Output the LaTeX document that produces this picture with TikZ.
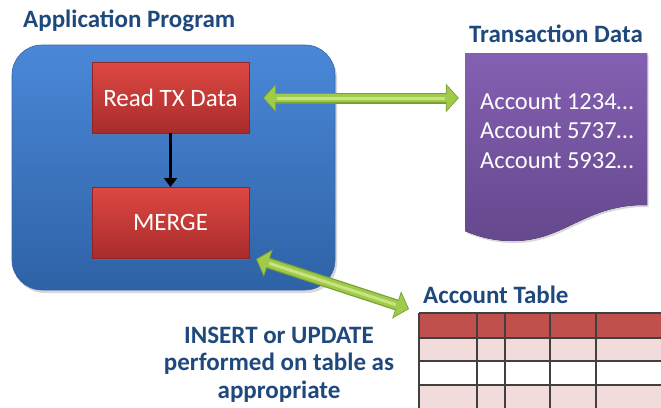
\documentclass[tikz,border=0pt]{standalone}
\usepackage{fontspec}
\setmainfont{Carlito}
\usetikzlibrary{arrows.meta,shadows,calc}

\definecolor{titleblue}{RGB}{31,73,125}
\definecolor{apptop}{RGB}{74,136,216}
\definecolor{appbot}{RGB}{46,98,166}
\definecolor{appedge}{RGB}{52,100,165}
\definecolor{redtop}{RGB}{222,72,66}
\definecolor{redbot}{RGB}{168,44,44}
\definecolor{rededge}{RGB}{140,38,38}
\definecolor{doctop}{RGB}{132,96,178}
\definecolor{docbot}{RGB}{102,72,142}
\definecolor{arrdark}{RGB}{120,160,50}
\definecolor{arrgreen}{RGB}{160,202,74}
\definecolor{arrlight}{RGB}{200,228,130}
\definecolor{hdrred}{RGB}{192,80,77}
\definecolor{rowpink}{RGB}{242,220,219}
\definecolor{gridgray}{RGB}{64,64,64}

\tikzset{
  heading/.style={text=titleblue, font=\fontsize{25}{28}\selectfont\bfseries, inner sep=0pt},
  appbox/.style={rounded corners=30pt, top color=apptop, bottom color=appbot,
    draw=appedge, line width=0.6pt, inner sep=0pt, outer sep=0pt,
    drop shadow={shadow xshift=2pt, shadow yshift=-3pt, opacity=0.3}},
  stepbox/.style={top color=redtop, bottom color=redbot, draw=rededge, line width=0.6pt,
    minimum width=157pt, minimum height=71pt, inner sep=0pt, outer sep=0pt,
    text=white, font=\fontsize{25}{28}\selectfont,
    drop shadow={shadow xshift=1pt, shadow yshift=-2pt, opacity=0.3}},
  acctline/.style={text=white, font=\fontsize{24.5}{28}\selectfont, inner sep=0pt, anchor=base west},
  fatrim/.style={line width=11pt, draw=arrdark,
    {Triangle[length=13pt,width=28pt]}-{Triangle[length=13pt,width=28pt]}},
  fatarrow/.style={line width=8.5pt, draw=arrgreen, shorten <=1.2pt, shorten >=1.2pt,
    {Triangle[length=11pt,width=24pt]}-{Triangle[length=11pt,width=24pt]}},
  glint/.style={line width=3pt, draw=arrlight, shorten <=14pt, shorten >=14pt},
  flow/.style={line width=2.5pt, draw=black, -{Triangle[length=9pt,width=13pt]}},
  gridline/.style={draw=gridgray, line width=1.2pt},
}

\begin{document}
\begin{tikzpicture}[x=1pt,y=-1pt]
\clip (0,0) rectangle (661,407);
\fill[white] (0,0) rectangle (661,407);

% application program container
\node[heading, anchor=base west] (apptitle) at (23,27) {Application Program};
\node[appbox, minimum width=323pt, minimum height=245pt] (app) at (173.5,167.5) {};

\node[stepbox] (readtx) at (170.5,97.5) {Read TX Data};
\node[stepbox] (merge) at (170.5,222.5) {MERGE};
\draw[flow] (readtx.south) -- (merge.north);

% transaction data document
\node[heading, anchor=base] (doctitle) at (556,42) {Transaction Data};
\fill[top color=doctop, bottom color=docbot, drop shadow={shadow xshift=1.5pt, shadow yshift=-2pt, opacity=0.3}]
  (465,53) -- (647,53) -- (647,205)
  .. controls (585,204) and (565,241) .. (513,241)
  .. controls (492,241) and (477,236) .. (465,231) -- cycle;
\node[minimum width=182pt, minimum height=188pt, inner sep=0pt] (doc) at (556,147) {};
\node[acctline] (acc1) at (480,109) {Account 1234…};
\node[acctline] (acc2) at (480,138.5) {Account 5737…};
\node[acctline] (acc3) at (480,168) {Account 5932…};

% account table
\node[heading, anchor=base west] (tabtitle) at (423,303) {Account Table};
\node[anchor=north west, minimum width=260pt, minimum height=100pt, inner sep=0pt, outer sep=0pt] (acct) at (419,313) {};
\fill[hdrred] (419,313) rectangle (670,338);
\fill[rowpink] (419,338) rectangle (670,361);
\fill[white] (419,361) rectangle (670,385);
\fill[rowpink] (419,385) rectangle (670,410);
\foreach \yy in {313,338,361,385}
  \draw[gridline] (419,\yy) -- (670,\yy);
\foreach \xx in {419,477,505,550,596}
  \draw[gridline] (\xx,313) -- (\xx,410);

% data exchange arrows
\coordinate (txstart) at ($(readtx.east)+(14,0.5)$);
\coordinate (txend) at ($(doc.west |- txstart)+(-6,0)$);
\draw[fatrim] (txstart) -- (txend);
\draw[fatarrow] (txstart) -- (txend);
\draw[glint] (txstart) -- (txend);

\coordinate (mgstart) at ($(merge.south east)+(7,1)$);
\coordinate (mgend) at ($(acct.north west)+(-10,-4)$);
\draw[fatrim] (mgstart) -- (mgend);
\draw[fatarrow] (mgstart) -- (mgend);
\draw[glint] (mgstart) -- (mgend);

% note on table access
\node[heading, align=center, anchor=base, font=\fontsize{25}{27.5}\selectfont\bfseries] (note) at (279,398)
  {INSERT or UPDATE\\performed on table as\\appropriate};
\end{tikzpicture}
\end{document}
